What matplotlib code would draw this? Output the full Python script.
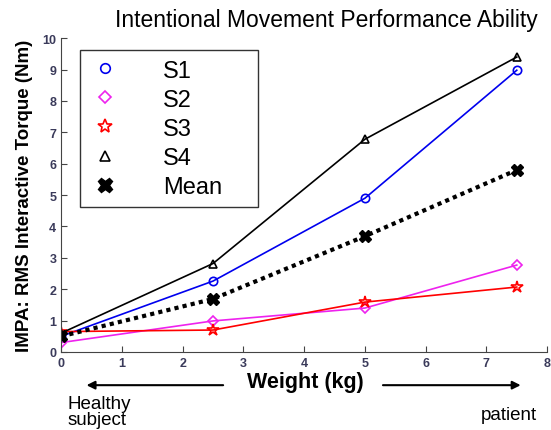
import matplotlib
matplotlib.use("Agg")
import matplotlib.pyplot as plt

plt.rcParams["font.family"] = ["Liberation Sans", "DejaVu Sans"]

weight = [0, 2.5, 5, 7.5]
s1 = [0.5, 2.26, 4.9, 8.98]
s2 = [0.3, 0.99, 1.4, 2.77]
s3 = [0.65, 0.7, 1.59, 2.07]
s4 = [0.6, 2.82, 6.78, 9.4]
mean = [0.5, 1.69, 3.69, 5.8]

fig = plt.figure(figsize=(5.51, 4.31), dpi=100)
ax = fig.add_axes([0.111, 0.181, 0.882, 0.728])

ax.plot(weight, s1, color="#0000ee", lw=1.2, marker="o", ms=6, mfc="none", mew=1.2, label="S1")
ax.plot(weight, s2, color="#ee22ee", lw=1.2, marker="D", ms=5, mfc="none", mew=1.2, label="S2")
ax.plot(weight, s3, color="#ff0000", lw=1.2, marker="*", ms=9, mfc="none", mew=1.2, label="S3")
ax.plot(weight, s4, color="black", lw=1.2, marker="^", ms=6, mfc="none", mew=1.2, label="S4")
ax.plot(weight, mean, color="black", lw=3, ls=(0, (1, 1)), marker="X", ms=9, mfc="black", label="Mean")

ax.set_xlim(0, 8)
ax.set_ylim(0, 10)
ax.set_xticks(range(0, 9))
ax.set_yticks(range(0, 11))
for s in ["top", "right"]:
    ax.spines[s].set_visible(False)
for s in ["left", "bottom"]:
    ax.spines[s].set_color("#444444")
ax.tick_params(direction="in", length=4, labelsize=9, colors="#444444", labelcolor="#3a3a5a")
for lab in ax.get_xticklabels() + ax.get_yticklabels():
    lab.set_fontweight("bold")

ax.set_title("Intentional Movement Performance Ability", fontsize=16.5, pad=9, x=0.545)
ax.set_ylabel("IMPA: RMS Interactive Torque (Nm)", fontsize=13.5, fontweight="bold", labelpad=7)

leg = ax.legend(loc="upper left", bbox_to_anchor=(0.039, 0.962, 0.366, 0.0), mode="expand",
                fontsize=17, frameon=True, fancybox=False, edgecolor="black",
                handlelength=1.3, handletextpad=1.8, labelspacing=0.30, borderpad=0.4,
                borderaxespad=0.0, markerscale=1.15)
for h in leg.legend_handles:
    h.set_linestyle("none")
leg.get_frame().set_linewidth(1.0)

fig.text(0.555, 0.112, "Weight (kg)", fontsize=15.5, fontweight="bold", ha="center", va="center")
ax.annotate("", xy=(0.152, 0.104), xytext=(0.41, 0.104), xycoords="figure fraction",
            textcoords="figure fraction",
            arrowprops=dict(arrowstyle="-|>", color="black", lw=1.5, mutation_scale=12),
            annotation_clip=False)
ax.annotate("", xy=(0.95, 0.104), xytext=(0.69, 0.104), xycoords="figure fraction",
            textcoords="figure fraction",
            arrowprops=dict(arrowstyle="-|>", color="black", lw=1.5, mutation_scale=12),
            annotation_clip=False)
fig.text(0.122, 0.043, "Healthy\nsubject", fontsize=13.5, ha="left", va="center", linespacing=0.95)
fig.text(0.873, 0.037, "patient", fontsize=13.5, ha="left", va="center")

fig.savefig("out.png", dpi=100)
